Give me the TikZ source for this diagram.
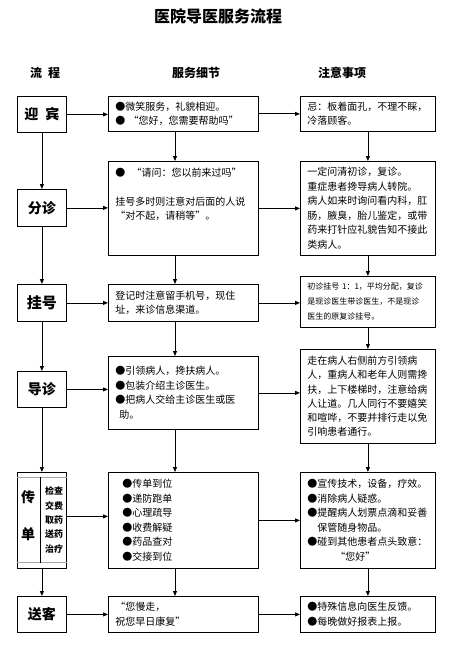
\documentclass[tikz,border=0pt]{standalone}
\usepackage{fontspec}
\setmainfont{Noto Sans CJK SC}
\usepackage{tikz}
\usetikzlibrary{
  arrows.meta,
  positioning,
  calc
}
\definecolor{linecolor}{RGB}{0, 0, 0}
\definecolor{dividercolor}{RGB}{165, 165, 165}
\tikzset{
titlelabel/.style={
  font=\bfseries\fontsize{16}{18}\selectfont
},
headlabel/.style={
  font=\bfseries\fontsize{12}{14}\selectfont
},
stepbox/.style={
  draw=linecolor,
  line width=0.8pt,
  anchor=north west,
  minimum width=49pt,
  inner sep=0pt,
  font=\bfseries\fontsize{14}{16}\selectfont
},
detailblock/.style={
  draw=linecolor,
  line width=0.8pt,
  anchor=north west,
  text width=136pt,
  inner xsep=7pt,
  inner ysep=0pt,
  align=left,
  font=\fontsize{10}{14.5}\selectfont
},
noteblock/.style={
  detailblock,
  text width=121pt
},
divider/.style={
  draw=dividercolor,
  line width=0.8pt
},
arrow/.style={
  -{Triangle[length=5pt,width=4pt]},
  line width=0.8pt,
  draw=linecolor
}
}

\begin{document}
\begin{tikzpicture}[x=1pt, y=-1pt]

\useasboundingbox (0,0) rectangle (470,650);

% ============================================================================
% Titulo e cabecalhos
% ============================================================================

\node[titlelabel] (title) at (218,16) {医院导医服务流程};
\node[headlabel] (headstep) at (45,73) {流\enspace 程};
\node[headlabel] (headdetail) at (196,73) {服务细节};
\node[headlabel] (headnote) at (342,73) {注意事项};

% ============================================================================
% Coluna 1: etapas
% ============================================================================

\node[stepbox, minimum height=36pt] (welcome) at (17,96) {迎\enspace 宾};
\node[stepbox, minimum height=37pt] (triage) at (17,189) {分诊};
\node[stepbox, minimum height=37pt, font=\bfseries\fontsize{15}{17}\selectfont] (register) at (17,284) {挂号};
\node[stepbox, minimum height=36pt] (guide) at (17,371) {导诊};
\node[stepbox, minimum height=96pt] (relay) at (17,472) {};
\node[stepbox, minimum height=36pt] (farewell) at (17,596) {送客};

% Detalhe interno de "传单"
\coordinate (relaytop) at ($(relay.north west)+(0,5)$);
\coordinate (relaybottom) at ($(relay.south west)+(0,-6)$);
\coordinate (relaysplit) at (40,0);
\draw[divider] (relaytop) -- (relaytop -| relay.east);
\draw[divider] (relaybottom) -- (relaybottom -| relay.east);
\draw[line width=0.8pt] (relaytop -| relaysplit) -- (relaybottom -| relaysplit);
\node[font=\bfseries\fontsize{14}{16}\selectfont] (relaychuan) at (28,497) {传};
\node[font=\bfseries\fontsize{14}{16}\selectfont] (relaydan) at (28,534) {单};
\node[font=\bfseries\fontsize{9}{14.3}\selectfont, align=left, inner sep=0pt] (relaysub) at (54,520)
  {检查\\交费\\取药\\送药\\治疗};

% ============================================================================
% Coluna 2: servico
% ============================================================================

\node[detailblock, minimum height=35pt] (detail1) at (108,96)
  {●微笑服务，礼貌相迎。\\● “您好，您需要帮助吗”};
\node[detailblock, minimum height=94pt] (detail2) at (108,161)
  {●\; “请问：您以前来过吗”\\~\\挂号多时则注意对后面的人说\\“对不起，请稍等”。\\~\\~};
\node[detailblock, minimum height=37pt] (detail3) at (108,284)
  {登记时注意留手机号，现住\\址，来诊信息渠道。};
\node[detailblock, minimum height=73pt] (detail4) at (108,356)
  {●引领病人，搀扶病人。\\●包装介绍主诊医生。\\●把病人交给主诊医生或医\\\hspace*{4pt}助。};
\node[detailblock, minimum height=96pt, text width=122pt, inner xsep=14pt] (detail5) at (108,472)
  {●传单到位\\●递防跑单\\●心理疏导\\●收费解疑\\●药品查对\\●交接到位};
\node[detailblock, minimum height=36pt] (detail6) at (108,596)
  {“您慢走，\\祝您早日康复”};

% ============================================================================
% Coluna 3: observacoes
% ============================================================================

\node[noteblock, minimum height=35pt] (note1) at (300,96)
  {忌：板着面孔，不理不睬，\\冷落顾客。};
\node[noteblock, minimum height=94pt] (note2) at (300,161)
  {一定问清初诊，复诊。\\重症患者搀导病人转院。\\病人如来时询问看内科，肛\\肠，腋臭，胎儿鉴定，或带\\药来打针应礼貌告知不接此\\类病人。};
\node[noteblock, minimum height=51pt, font=\fontsize{8}{15}\selectfont] (note3) at (300,276)
  {初诊挂号 1：1，平均分配，复诊\\是现诊医生带诊医生，不是现诊\\医生的原复诊挂号。};
\node[noteblock, minimum height=94pt, font=\fontsize{10}{14.3}\selectfont] (note4) at (300,349)
  {走在病人右侧前方引领病\\人，重病人和老年人则需搀\\扶，上下楼梯时，注意给病\\人让道。几人同行不要嬉笑\\和喧哗，不要并排行走以免\\引响患者通行。};
\node[noteblock, minimum height=96pt] (note5) at (300,472)
  {●宣传技术，设备，疗效。\\●消除病人疑惑。\\●提醒病人划票点滴和妥善\\\hspace*{10pt}保管随身物品。\\●碰到其他患者点头致意：\\\hspace*{28pt}“您好”};
\node[noteblock, minimum height=36pt] (note6) at (300,596)
  {●特殊信息向医生反馈。\\●每晚做好报表上报。};

% ============================================================================
% Setas de conexao
% ============================================================================

% Etapas para servico
\draw[arrow] (welcome.east) -- (welcome.east -| detail1.west);
\draw[arrow] (triage.east) -- (triage.east -| detail2.west);
\draw[arrow] (register.east) -- (register.east -| detail3.west);
\draw[arrow] (guide.east) -- (guide.east -| detail4.west);
\draw[arrow] ($(relay.east)+(0,-4)$) -- ($(relay.east -| detail5.west)+(0,-4)$);
\draw[arrow] (farewell.east) -- (farewell.east -| detail6.west);

% Servico para observacoes
\draw[arrow] (detail1.east) -- (detail1.east -| note1.west);
\draw[arrow] (detail2.east) -- (detail2.east -| note2.west);
\draw[arrow] (detail3.east) -- (detail3.east -| note3.west);
\draw[arrow] (detail4.east) -- (detail4.east -| note4.west);
\draw[arrow] (detail5.east) -- (detail5.east -| note5.west);
\draw[arrow] (detail6.east) -- (detail6.east -| note6.west);

% Fluxo vertical das etapas
\draw[arrow] (welcome.south) -- (triage.north);
\draw[arrow] (triage.south) -- (register.north);
\draw[arrow] (register.south) -- (guide.north);
\draw[arrow] (guide.south) -- (relay.north);
\draw[arrow] (relay.south) -- (farewell.north);

% Fluxo vertical do servico
\coordinate (midaxis) at (175,0);
\draw[arrow] (detail1.south -| midaxis) -- (detail2.north -| midaxis);
\draw[arrow] (detail2.south -| midaxis) -- (detail3.north -| midaxis);
\draw[arrow] (detail3.south -| midaxis) -- (detail4.north -| midaxis);
\draw[arrow] (detail4.south -| midaxis) -- (detail5.north -| midaxis);
\draw[arrow] (detail5.south -| midaxis) -- (detail6.north -| midaxis);

% Fluxo vertical das observacoes
\draw[arrow] (note1.south) -- (note2.north);
\draw[arrow] (note2.south) -- (note3.north);
\draw[arrow] (note3.south) -- (note4.north);
\draw[arrow] (note4.south) -- (note5.north);
\draw[arrow] (note5.south) -- (note6.north);

\end{tikzpicture}
\end{document}
